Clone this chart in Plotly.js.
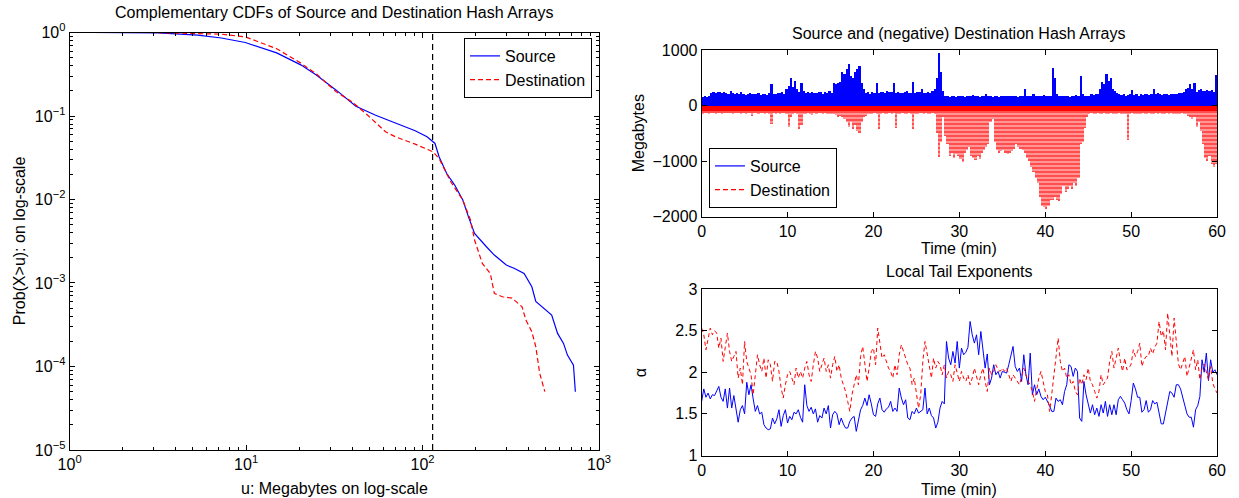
<!DOCTYPE html>
<html><head><meta charset="utf-8">
<script src="https://cdn.plot.ly/plotly-3.0.1.min.js"></script>
<style>html,body{margin:0;padding:0;background:#fff}#chart{width:1239px;height:498px}</style>
</head><body><div id="chart"></div>
<script>
// ---- Left panel: complementary CDFs ----
const srcU = [1.32,3.18,5.32,7.24,9.9,14.9,20.4,25,32.4,37.8,41.9,54.2,70.2,90.8,106,117.6,124,137,152,169,182,197,230,255,298,330,376,416,438,486,539,582,629,662,716,734];
const srcP = [1,0.99,0.93,0.86,0.76,0.57,0.41,0.31,0.204,0.155,0.131,0.102,0.0814,0.0665,0.0564,0.0469,0.0325,0.0205,0.0149,0.00984,0.0062,0.00392,0.00272,0.00216,0.00164,0.0015,0.0013,0.0009,0.0006,0.000496,0.000413,0.000249,0.000189,0.000137,0.000104,0.0000499];
const dstU = [2.86,5.32,7.24,9.9,14.9,20.4,25,32.4,39.8,48.9,61.7,70.2,90.8,114.6,124,144.5,169,187,197,218,242,255,283,321,366,385,416,438,461,493];
const dstP = [1,0.98,0.955,0.887,0.64,0.43,0.32,0.195,0.148,0.102,0.0647,0.0564,0.046,0.0373,0.031,0.0163,0.00984,0.00566,0.00327,0.00172,0.0013,0.00075,0.000685,0.00066,0.00052,0.00036,0.000261,0.000173,0.0000828,0.0000499];
const thresholdU = 114;

// ---- Top right: source and (negative) destination hash arrays, 0.25-min envelope ----
const srcMB = [
160,170,150,180, 230,240,220,250, 240,230,250,220, 200,260,230,210, 220,200,240,210,
190,210,230,200, 210,200,220,190, 200,210,190,220, 380,200,210,230, 220,250,210,300,
350,500,330,450, 300,250,400,260, 230,250,220,240, 230,220,250,240, 210,240,220,260,
220,400,390,410, 420,600,560,650, 750,540,500,600, 650,720,400,300, 220,240,210,250,
220,400,230,250, 250,220,260,240, 240,400,230,250, 230,220,240,260, 220,230,420,220,
240,250,300,230, 220,250,230,260, 300,500,940,600, 260,180,170,160, 170,180,160,170,
170,180,160,170, 180,170,190,170, 170,160,180,170, 200,170,180,160, 170,180,160,170,
180,170,170,180, 170,180,170,160, 170,180,300,170, 180,170,200,170, 170,180,170,190,
170,180,170,680, 500,200,170,180, 170,180,170,160, 180,170,190,170, 530,200,180,170,
180,200,190,210, 200,300,420,380, 570,450,500,300, 260,220,200,190, 200,180,190,200,
280,190,200,180, 200,190,210,200, 190,200,300,200, 220,200,190,210, 200,190,210,200,
210,200,220,230, 250,300,320,380, 300,400,250,280, 300,260,270,280, 260,280,250,550];
const dstMB = [
-150,-130,-140,-160, -140,-130,-150,-140, -130,-150,-140,-130, -140,-130,-150,-140, -130,-140,-150,-140,
-150,-140,-130,-180, -140,-130,-150,-140, -130,-160,-140,-150, -330,-140,-150,-140, -150,-140,-130,-160,
-380,-200,-150,-140, -150,-420,-350,-150, -160,-140,-150,-170, -140,-150,-130,-140, -150,-140,-160,-150,
-150,-160,-170,-200, -180,-200,-250,-300, -380,-300,-420,-350, -450,-500,-300,-200, -180,-160,-150,-150,
-140,-160,-420,-150, -140,-160,-150,-140, -150,-140,-400,-160, -150,-140,-160,-150, -140,-160,-420,-150,
-150,-140,-130,-150, -140,-160,-150,-140, -150,-500,-920,-650, -200,-550,-700,-900, -850,-950,-880,-900,
-960,-1010,-850,-800, -750,-900,-950,-980, -900,-960,-850,-800, -750,-700,-300,-250, -650,-800,-850,-820,
-800,-850,-880,-850, -820,-780,-700,-750, -780,-800,-850,-950, -1000,-1100,-1200,-1300, -1400,-1650,-1800,-1830,
-1870,-1800,-1700,-1700, -1650,-1700,-1720,-1600, -1450,-1550,-1500,-1450, -1500,-1400,-1450,-1300, -700,-650,-400,-200,
-150,-140,-160,-150, -140,-150,-160,-140, -150,-160,-140,-150, -160,-150,-140,-160, -150,-160,-620,-150,
-140,-150,-160,-150, -150,-140,-150,-160, -140,-160,-150,-140, -150,-140,-160,-150, -140,-150,-140,-160,
-150,-160,-150,-140, -160,-150,-180,-200, -250,-200,-380,-300, -450,-700,-950,-1000, -900,-1050,-1100,-1050];

// ---- Bottom right: local tail exponents, every 0.25 min from 0 to 60 ----
const alphaSrc = [
1.65,1.80,1.70,1.75, 1.68,1.73,1.72,1.78, 1.83,1.70,1.65,1.80, 1.57,1.81,1.57,1.72, 1.56,1.40,1.55,1.60,
1.50,1.88,1.73,1.85, 1.68,1.53,1.60,1.50, 1.52,1.37,1.33,1.31, 1.32,1.45,1.38,1.44, 1.55,1.35,1.48,1.55,
1.39,1.47,1.43,1.52, 1.50,1.55,1.46,1.40, 1.85,1.60,1.53,1.58, 1.50,1.56,1.40,1.48, 1.45,1.57,1.50,1.60,
1.33,1.49,1.53,1.50, 1.37,1.45,1.38,1.33, 1.33,1.41,1.45,1.47, 1.29,1.40,1.55,1.60, 1.69,1.60,1.73,1.62,
1.49,1.47,1.62,1.69, 1.55,1.52,1.56,1.58, 1.65,1.53,1.57,1.53, 1.81,1.69,1.61,1.67, 1.45,1.43,1.53,1.50,
1.57,1.51,1.53,1.55, 1.81,1.50,1.57,1.48, 1.45,1.33,1.40,1.57, 1.65,1.62,2.37,2.17, 2.09,2.25,2.11,2.37,
2.05,2.29,2.21,2.24, 2.30,2.61,2.45,2.35, 2.45,2.21,2.49,2.25, 2.05,2.22,1.85,1.93, 2.09,1.97,2.01,1.93,
2.01,2.00,1.99,2.09, 2.19,2.31,2.07,2.01, 2.05,1.89,2.21,1.97, 1.85,2.23,1.73,1.85, 1.73,1.80,1.71,1.67,
1.70,1.65,1.60,1.53, 1.53,1.69,1.65,1.67, 1.61,1.77,1.85,2.09, 2.07,1.95,2.05,2.01, 1.45,1.41,1.89,1.73,
1.61,1.51,1.61,1.49, 1.57,1.47,1.61,1.51, 1.65,1.47,1.61,1.49, 1.61,1.49,1.67,1.71, 1.67,1.63,1.55,1.50,
1.66,1.87,1.80,1.70, 1.70,1.52,1.55,1.66, 1.52,1.55,1.66,1.62, 1.64,1.50,1.38,1.38, 1.50,1.63,1.77,1.75,
1.70,1.85,1.85,1.80, 1.70,1.59,1.50,1.46, 1.46,1.34,1.55,1.60, 1.71,2.15,2.00,2.23, 1.90,2.15,2.00,2.03, 1.97];
const alphaDst = [
2.53,2.45,2.27,2.40, 2.53,2.45,2.50,2.47, 2.29,2.41,2.13,2.30, 2.47,2.25,2.13,2.19, 2.25,1.93,2.05,1.85,
2.37,2.13,2.05,1.97, 1.73,1.97,2.21,2.09, 2.01,2.17,1.93,2.15, 2.09,1.89,2.13,2.13, 2.01,1.81,1.69,1.85,
1.97,2.01,1.93,1.85, 2.05,1.93,2.01,1.93, 2.05,2.13,1.97,1.89, 2.09,2.25,2.17,2.01, 2.09,2.17,2.01,2.09,
1.93,2.09,2.19,2.01, 2.09,1.93,1.85,1.77, 1.65,1.53,1.73,1.85, 1.97,1.85,2.19,2.31, 2.09,1.89,2.05,2.25,
2.29,2.09,2.53,2.33, 2.17,2.21,2.13,2.05, 2.01,1.93,2.09,1.97, 2.21,2.33,2.25,2.17, 2.09,2.05,1.85,1.93,
1.73,1.57,1.73,2.13, 2.37,2.21,2.09,1.93, 2.17,2.05,2.13,2.09, 1.97,2.09,1.93,2.01, 1.97,1.89,2.09,1.97,
1.89,2.01,1.93,1.89, 1.97,1.85,1.93,2.05, 1.93,1.85,1.97,2.05, 1.89,1.77,2.05,1.97, 2.01,2.09,2.03,2.01,
2.05,2.01,2.05,1.97, 1.89,1.97,1.93,1.89, 1.85,1.95,2.05,1.97, 1.89,1.85,1.77,1.65, 1.81,1.93,2.01,1.89,
1.77,1.73,1.53,1.73, 1.97,2.25,2.41,2.13, 2.01,2.05,1.93,1.97, 1.85,1.89,1.77,1.73, 1.93,1.85,1.97,1.91,
2.05,1.89,1.85,1.77, 1.69,1.77,1.97,1.85, 1.89,1.93,2.13,2.25, 2.05,2.17,2.29,2.13, 2.01,2.17,2.03,2.05,
2.10,2.27,2.19,2.25, 2.35,2.07,2.15,2.19, 2.19,2.29,2.22,2.30, 2.35,2.61,2.43,2.50, 2.27,2.71,2.43,2.19,
2.65,2.35,2.10,2.03, 2.10,2.19,1.95,2.07, 2.19,2.27,2.03,2.15, 1.91,2.05,2.10,2.00, 1.91,2.07,1.87,1.80, 1.75];

const xTickVals = [1,10,100,1000];
const xTickText = ['10<sup>0</sup>','10<sup>1</sup>','10<sup>2</sup>','10<sup>3</sup>'];
const yTickVals = [1e-5,1e-4,1e-3,1e-2,1e-1,1];
const yTickText = ['10<sup>\u22125</sup>','10<sup>\u22124</sup>','10<sup>\u22123</sup>','10<sup>\u22122</sup>','10<sup>\u22121</sup>','10<sup>0</sup>'];

// grids derived from the data arrays
const binT = srcMB.map((_, i) => 0.125 + 0.25 * i);
const alphaT = alphaSrc.map((_, i) => 0.25 * i);
const dstCore = dstMB.map(v => Math.max(v, -105));
function minorLog(lo, hi) { const a = []; for (let e = lo; e < hi; e++) for (let k = 2; k <= 9; k++) a.push(k * Math.pow(10, e)); return a; }

const FONT = 'Liberation Sans, Arial, Helvetica, sans-serif';
const FS = 16;
const BLUE = '#0000ff', RED = '#ff0000';

const traces = [
  {x: srcU, y: srcP, type: 'scatter', mode: 'lines', name: 'Source', line: {color: BLUE, width: 1.2}, xaxis: 'x', yaxis: 'y', legend: 'legend'},
  {x: dstU, y: dstP, type: 'scatter', mode: 'lines', name: 'Destination', line: {color: RED, width: 1.2, dash: '5px,3px'}, xaxis: 'x', yaxis: 'y', legend: 'legend'},
  {x: [thresholdU, thresholdU], y: [1e-5, 1], type: 'scatter', mode: 'lines', showlegend: false, line: {color: '#000', width: 1.2, dash: '6px,4px'}, xaxis: 'x', yaxis: 'y'},

  {x: binT, y: srcMB, type: 'bar', width: 0.25, marker: {color: BLUE, line: {width: 0}}, showlegend: false, xaxis: 'x2', yaxis: 'y2', hoverinfo: 'skip'},
  {x: binT, y: dstMB, type: 'bar', width: 0.25, marker: {color: 'rgba(255,60,60,0.5)', line: {width: 0}, pattern: {shape: '-', fillmode: 'overlay', fgcolor: RED, size: 4, solidity: 0.55}}, showlegend: false, xaxis: 'x2', yaxis: 'y2', hoverinfo: 'skip'},
  {x: binT, y: dstCore, type: 'bar', width: 0.25, marker: {color: RED, line: {width: 0}}, showlegend: false, xaxis: 'x2', yaxis: 'y2', hoverinfo: 'skip'},
  {x: [null], y: [null], type: 'scatter', mode: 'lines', name: 'Source', line: {color: BLUE, width: 1.2}, xaxis: 'x2', yaxis: 'y2', legend: 'legend2'},
  {x: [null], y: [null], type: 'scatter', mode: 'lines', name: 'Destination', line: {color: RED, width: 1.2, dash: '5px,3px'}, xaxis: 'x2', yaxis: 'y2', legend: 'legend2'},

  {x: alphaT, y: alphaSrc, type: 'scatter', mode: 'lines', showlegend: false, line: {color: BLUE, width: 1}, xaxis: 'x3', yaxis: 'y3'},
  {x: alphaT, y: alphaDst, type: 'scatter', mode: 'lines', showlegend: false, line: {color: RED, width: 1, dash: '4px,3px'}, xaxis: 'x3', yaxis: 'y3'}
];

const axBase = {showline: true, linecolor: '#000', linewidth: 1, mirror: 'ticks', ticks: 'inside', ticklen: 5, tickcolor: '#000', showgrid: false, zeroline: false, tickfont: {family: FONT, size: FS, color: '#000'}, fixedrange: true};

const L = {l: 0.0562, r: 0.4835, b: 0.0964, t: 0.9347};
const R = {l: 0.5663, r: 0.9823};
const T = {b: 0.5649, t: 0.8996};
const B = {b: 0.0853, t: 0.4197};

function ann(text, x, y, extra) { return Object.assign({text: text, x: x, y: y, xref: 'paper', yref: 'paper', showarrow: false, font: {family: FONT, size: FS, color: '#000'}, xanchor: 'center', yanchor: 'middle'}, extra || {}); }

const layout = {
  width: 1239, height: 498,
  margin: {l: 0, r: 0, t: 0, b: 0},
  paper_bgcolor: '#fff', plot_bgcolor: '#fff',
  barmode: 'overlay', bargap: 0,
  font: {family: FONT, size: FS, color: '#000'},
  xaxis: Object.assign({}, axBase, {domain: [L.l, L.r], anchor: 'y', type: 'log', range: [0, 3], tickmode: 'array', tickvals: xTickVals, ticktext: xTickText,
    minor: {tickmode: 'array', tickvals: minorLog(0, 3), ticks: 'inside', ticklen: 3, tickcolor: '#000', showgrid: false}}),
  yaxis: Object.assign({}, axBase, {domain: [L.b, L.t], anchor: 'x', type: 'log', range: [-5, 0], tickmode: 'array', tickvals: yTickVals, ticktext: yTickText,
    minor: {tickmode: 'array', tickvals: minorLog(-5, 0), ticks: 'inside', ticklen: 3, tickcolor: '#000', showgrid: false}}),
  xaxis2: Object.assign({}, axBase, {domain: [R.l, R.r], anchor: 'y2', range: [0, 60], tickmode: 'array', tickvals: [0,10,20,30,40,50,60]}),
  yaxis2: Object.assign({}, axBase, {domain: [T.b, T.t], anchor: 'x2', range: [-2000, 1000], tickmode: 'array', tickvals: [-2000,-1000,0,1000]}),
  xaxis3: Object.assign({}, axBase, {domain: [R.l, R.r], anchor: 'y3', range: [0, 60], tickmode: 'array', tickvals: [0,10,20,30,40,50,60]}),
  yaxis3: Object.assign({}, axBase, {domain: [B.b, B.t], anchor: 'x3', range: [1, 3], tickmode: 'array', tickvals: [1,1.5,2,2.5,3]}),
  legend: {x: 0.4778, y: 0.9237, xanchor: 'right', yanchor: 'top', bgcolor: '#fff', bordercolor: '#000', borderwidth: 1, font: {family: FONT, size: FS, color: '#000'}, tracegroupgap: 0},
  legend2: {x: 0.5722, y: 0.7028, xanchor: 'left', yanchor: 'top', bgcolor: '#fff', bordercolor: '#000', borderwidth: 1, font: {family: FONT, size: FS, color: '#000'}, tracegroupgap: 0},
  annotations: [
    ann('Complementary CDFs of Source and Destination Hash Arrays', (L.l + L.r) / 2, 1 - 13 / 498),
    ann('u: Megabytes on log-scale', (L.l + L.r) / 2, 1 - 488 / 498),
    ann('Prob(X>u): on log-scale', 19 / 1239, (L.b + L.t) / 2, {textangle: -90}),
    ann('Source and (negative) Destination Hash Arrays', (R.l + R.r) / 2, 1 - 33 / 498),
    ann('Time (min)', (R.l + R.r) / 2, 1 - 248 / 498),
    ann('Megabytes', 638 / 1239, (T.b + T.t) / 2, {textangle: -90}),
    ann('Local Tail Exponents', (R.l + R.r) / 2, 1 - 271 / 498),
    ann('Time (min)', (R.l + R.r) / 2, 1 - 489 / 498),
    ann('\u03b1', 640 / 1239, (B.b + B.t) / 2, {textangle: -90})
  ]
};

Plotly.newPlot('chart', traces, layout, {staticPlot: true, displayModeBar: false});
</script></body></html>
